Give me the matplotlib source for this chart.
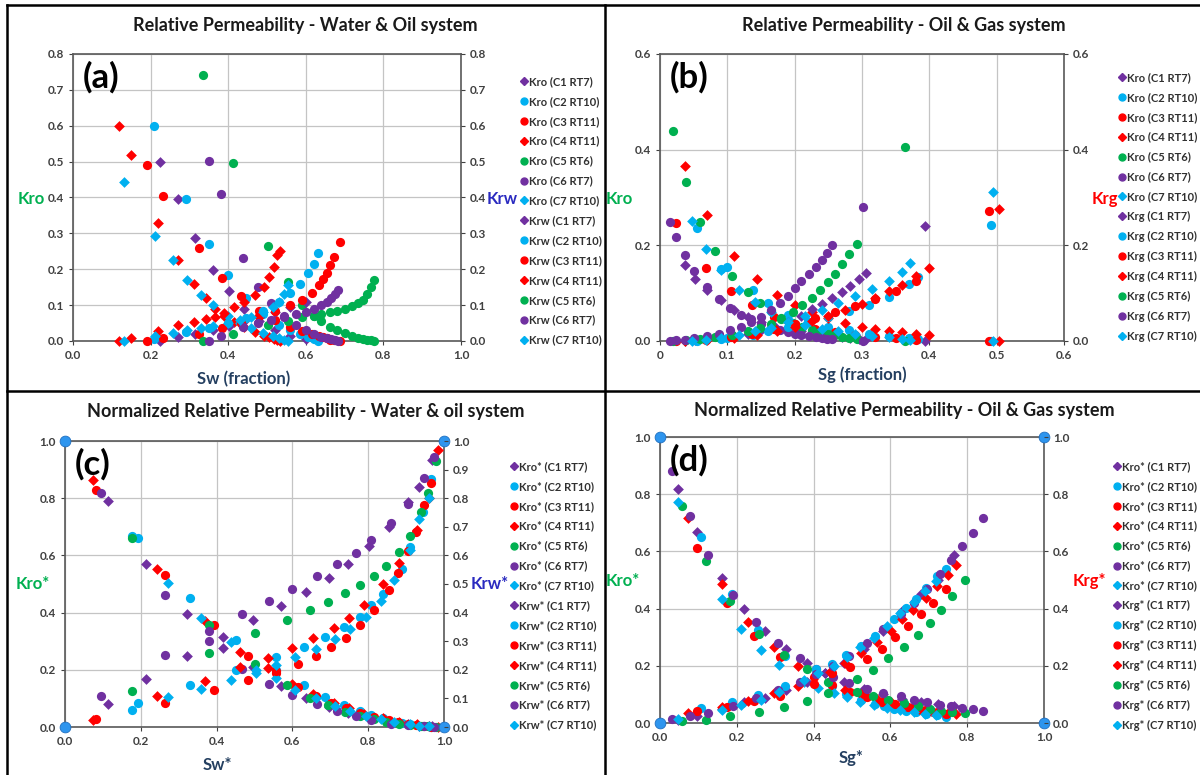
import numpy as np
import matplotlib
matplotlib.use("Agg")
import matplotlib.pyplot as plt
from matplotlib.lines import Line2D

plt.rcParams['font.family'] = ['Lato', 'DejaVu Sans']

cores = ["C1 RT7", "C2 RT10", "C3 RT11", "C4 RT11", "C5 RT6", "C6 RT7", "C7 RT10"]

# (a) water / oil  - Sw, Kro, Krw per core
sw_a = [
    [0.223, 0.27, 0.315, 0.361, 0.401, 0.44, 0.48, 0.52, 0.56, 0.60],
    [0.208, 0.29, 0.35, 0.40, 0.445, 0.49, 0.53, 0.56, 0.585, 0.605, 0.62, 0.632],
    [0.19, 0.232, 0.324, 0.384, 0.434, 0.48, 0.52, 0.56, 0.59, 0.615, 0.635, 0.645, 0.654, 0.663, 0.673, 0.688],
    [0.119, 0.149, 0.218, 0.27, 0.312, 0.342, 0.366, 0.39, 0.414, 0.44, 0.47, 0.492, 0.505, 0.517, 0.527, 0.533],
    [0.335, 0.413, 0.502, 0.554, 0.59, 0.62, 0.64, 0.663, 0.68, 0.70, 0.72, 0.735, 0.748, 0.758, 0.768, 0.777],
    [0.35, 0.381, 0.439, 0.478, 0.51, 0.545, 0.575, 0.60, 0.62, 0.64, 0.655, 0.665, 0.675, 0.683],
    [0.131, 0.212, 0.257, 0.294, 0.329, 0.361, 0.40, 0.43, 0.46, 0.49, 0.515, 0.53, 0.545, 0.555],
]
kro_a = [
    [0.50, 0.395, 0.286, 0.199, 0.139, 0.09, 0.055, 0.03, 0.015, 0.005],
    [0.60, 0.395, 0.27, 0.185, 0.12, 0.075, 0.045, 0.03, 0.02, 0.01, 0.005, 0.0],
    [0.49, 0.405, 0.26, 0.176, 0.125, 0.085, 0.058, 0.038, 0.027, 0.019, 0.013, 0.01, 0.007, 0.004, 0.002, 0.0],
    [0.60, 0.518, 0.33, 0.225, 0.158, 0.121, 0.09, 0.07, 0.052, 0.038, 0.025, 0.015, 0.01, 0.006, 0.003, 0.0],
    [0.742, 0.496, 0.264, 0.165, 0.1, 0.07, 0.056, 0.04, 0.03, 0.021, 0.014, 0.009, 0.006, 0.004, 0.002, 0.0],
    [0.501, 0.411, 0.232, 0.151, 0.105, 0.07, 0.045, 0.03, 0.02, 0.012, 0.008, 0.005, 0.002, 0.0],
    [0.444, 0.294, 0.225, 0.171, 0.129, 0.1, 0.07, 0.05, 0.035, 0.022, 0.013, 0.008, 0.004, 0.0],
]
krw_a = [
    [0.0, 0.01, 0.02, 0.03, 0.042, 0.055, 0.068, 0.082, 0.095, 0.11],
    [0.005, 0.025, 0.035, 0.05, 0.065, 0.085, 0.11, 0.135, 0.16, 0.19, 0.215, 0.245],
    [0.0, 0.007, 0.02, 0.035, 0.05, 0.07, 0.085, 0.1, 0.115, 0.135, 0.155, 0.174, 0.19, 0.213, 0.235, 0.275],
    [0.0, 0.007, 0.027, 0.044, 0.053, 0.06, 0.068, 0.078, 0.095, 0.11, 0.128, 0.15, 0.178, 0.205, 0.24, 0.252],
    [0.0, 0.02, 0.044, 0.056, 0.066, 0.071, 0.076, 0.08, 0.085, 0.09, 0.097, 0.105, 0.115, 0.13, 0.15, 0.171],
    [0.0, 0.015, 0.04, 0.05, 0.058, 0.066, 0.075, 0.082, 0.09, 0.1, 0.11, 0.12, 0.13, 0.141],
    [0.0, 0.015, 0.022, 0.03, 0.037, 0.042, 0.05, 0.058, 0.068, 0.08, 0.095, 0.11, 0.13, 0.155],
]

# (b) oil / gas - Sg, Kro, Krg per core
sg_b = [
    [0.037, 0.052, 0.07, 0.09, 0.11, 0.13, 0.15, 0.17, 0.19, 0.21, 0.225, 0.24, 0.255, 0.27, 0.282, 0.295, 0.306, 0.394],
    [0.055, 0.09, 0.1, 0.138, 0.16, 0.19, 0.22, 0.25, 0.28, 0.31, 0.34, 0.37, 0.383, 0.492],
    [0.024, 0.068, 0.105, 0.137, 0.17, 0.2, 0.23, 0.26, 0.29, 0.32, 0.35, 0.38, 0.489],
    [0.037, 0.07, 0.11, 0.144, 0.174, 0.2, 0.225, 0.25, 0.275, 0.3, 0.32, 0.34, 0.36, 0.38, 0.4, 0.503],
    [0.019, 0.039, 0.06, 0.081, 0.107, 0.13, 0.149, 0.165, 0.18, 0.198, 0.211, 0.225, 0.237, 0.25, 0.26, 0.271, 0.281, 0.293, 0.364],
    [0.015, 0.024, 0.037, 0.051, 0.07, 0.087, 0.104, 0.12, 0.135, 0.15, 0.165, 0.178, 0.19, 0.2, 0.21, 0.222, 0.232, 0.24, 0.248, 0.256, 0.301],
    [0.047, 0.068, 0.09, 0.118, 0.141, 0.165, 0.19, 0.215, 0.24, 0.265, 0.29, 0.315, 0.34, 0.36, 0.372, 0.494],
]
kro_b = [
    [0.158, 0.13, 0.106, 0.085, 0.065, 0.05, 0.04, 0.032, 0.025, 0.02, 0.016, 0.013, 0.01, 0.008, 0.006, 0.005, 0.004, 0.0],
    [0.237, 0.15, 0.155, 0.107, 0.08, 0.055, 0.04, 0.03, 0.022, 0.015, 0.01, 0.006, 0.004, 0.0],
    [0.247, 0.152, 0.105, 0.075, 0.05, 0.035, 0.025, 0.018, 0.013, 0.009, 0.006, 0.003, 0.0],
    [0.366, 0.263, 0.178, 0.13, 0.096, 0.075, 0.06, 0.048, 0.038, 0.03, 0.025, 0.021, 0.018, 0.015, 0.012, 0.0],
    [0.439, 0.333, 0.248, 0.188, 0.135, 0.102, 0.08, 0.062, 0.048, 0.037, 0.03, 0.024, 0.019, 0.015, 0.012, 0.009, 0.006, 0.004, 0.0],
    [0.248, 0.218, 0.179, 0.147, 0.112, 0.087, 0.07, 0.055, 0.045, 0.035, 0.028, 0.022, 0.018, 0.015, 0.012, 0.01, 0.008, 0.006, 0.005, 0.004, 0.0],
    [0.251, 0.193, 0.149, 0.106, 0.082, 0.06, 0.045, 0.034, 0.026, 0.02, 0.015, 0.011, 0.008, 0.005, 0.003, 0.0],
]
krg_b = [
    [0.0, 0.002, 0.004, 0.007, 0.01, 0.015, 0.022, 0.03, 0.04, 0.052, 0.066, 0.078, 0.09, 0.102, 0.115, 0.13, 0.142, 0.24],
    [0.0, 0.004, 0.006, 0.012, 0.02, 0.03, 0.04, 0.05, 0.063, 0.076, 0.092, 0.12, 0.133, 0.242],
    [0.0, 0.003, 0.008, 0.015, 0.025, 0.036, 0.048, 0.06, 0.073, 0.088, 0.104, 0.125, 0.272],
    [0.0, 0.002, 0.006, 0.012, 0.02, 0.03, 0.042, 0.052, 0.065, 0.078, 0.09, 0.104, 0.118, 0.135, 0.153, 0.276],
    [0.0, 0.002, 0.004, 0.008, 0.013, 0.02, 0.028, 0.036, 0.047, 0.061, 0.076, 0.09, 0.107, 0.124, 0.141, 0.16, 0.181, 0.202, 0.406],
    [0.0, 0.002, 0.003, 0.006, 0.01, 0.015, 0.022, 0.03, 0.04, 0.05, 0.065, 0.08, 0.095, 0.11, 0.125, 0.14, 0.155, 0.17, 0.185, 0.2, 0.28],
    [0.0, 0.003, 0.006, 0.012, 0.02, 0.028, 0.04, 0.052, 0.065, 0.08, 0.094, 0.108, 0.125, 0.145, 0.164, 0.311],
]

# (c) normalized water / oil
swn_c = [
    [0.113, 0.213, 0.323, 0.418, 0.497, 0.571, 0.636, 0.697, 0.747, 0.803, 0.856, 0.906, 0.934, 0.968],
    [0.177, 0.192, 0.331, 0.452, 0.556, 0.631, 0.687, 0.735, 0.778, 0.808, 0.838, 0.889, 0.909, 0.944, 0.965],
    [0.083, 0.265, 0.392, 0.483, 0.556, 0.614, 0.662, 0.702, 0.742, 0.778, 0.816, 0.854, 0.879, 0.904, 0.927, 0.947, 0.965],
    [0.073, 0.242, 0.369, 0.463, 0.535, 0.6, 0.655, 0.71, 0.75, 0.79, 0.84, 0.88, 0.93, 0.96, 0.985],
    [0.177, 0.379, 0.5, 0.586, 0.646, 0.694, 0.74, 0.778, 0.816, 0.846, 0.882, 0.911, 0.939, 0.958, 0.978],
    [0.096, 0.265, 0.381, 0.467, 0.538, 0.599, 0.665, 0.717, 0.768, 0.808, 0.859, 0.904, 0.947, 0.973],
    [0.273, 0.359, 0.437, 0.503, 0.558, 0.606, 0.662, 0.712, 0.753, 0.795, 0.833, 0.869, 0.91, 0.934, 0.96],
]
kron_c = [
    [0.79, 0.57, 0.396, 0.315, 0.21, 0.142, 0.1, 0.07, 0.05, 0.033, 0.02, 0.01, 0.005, 0.002],
    [0.668, 0.661, 0.451, 0.305, 0.2, 0.146, 0.105, 0.078, 0.055, 0.042, 0.03, 0.015, 0.01, 0.004, 0.001],
    [0.828, 0.533, 0.358, 0.25, 0.19, 0.14, 0.11, 0.085, 0.065, 0.05, 0.035, 0.025, 0.018, 0.012, 0.007, 0.004, 0.001],
    [0.862, 0.552, 0.369, 0.263, 0.207, 0.15, 0.115, 0.085, 0.065, 0.045, 0.03, 0.018, 0.01, 0.004, 0.0],
    [0.66, 0.355, 0.22, 0.146, 0.103, 0.076, 0.052, 0.038, 0.027, 0.018, 0.012, 0.007, 0.004, 0.002, 0.0],
    [0.818, 0.463, 0.30, 0.203, 0.152, 0.113, 0.082, 0.056, 0.037, 0.023, 0.012, 0.006, 0.002, 0.0],
    [0.503, 0.382, 0.297, 0.2, 0.172, 0.13, 0.1, 0.075, 0.055, 0.04, 0.028, 0.018, 0.01, 0.005, 0.002],
]
krwn_c = [
    [0.082, 0.169, 0.25, 0.276, 0.373, 0.423, 0.472, 0.522, 0.571, 0.633, 0.699, 0.786, 0.84, 0.935],
    [0.061, 0.084, 0.146, 0.2, 0.245, 0.28, 0.315, 0.35, 0.385, 0.425, 0.466, 0.554, 0.629, 0.751, 0.868],
    [0.029, 0.084, 0.128, 0.163, 0.195, 0.221, 0.248, 0.28, 0.312, 0.358, 0.408, 0.478, 0.538, 0.614, 0.682, 0.777, 0.853],
    [0.026, 0.107, 0.161, 0.21, 0.24, 0.275, 0.31, 0.345, 0.38, 0.425, 0.5, 0.575, 0.69, 0.8, 0.97],
    [0.125, 0.26, 0.329, 0.375, 0.409, 0.437, 0.469, 0.495, 0.529, 0.563, 0.612, 0.668, 0.752, 0.818, 0.929],
    [0.107, 0.253, 0.336, 0.396, 0.44, 0.481, 0.527, 0.571, 0.61, 0.655, 0.714, 0.781, 0.871, 0.944],
    [0.105, 0.134, 0.163, 0.19, 0.216, 0.245, 0.274, 0.309, 0.343, 0.385, 0.44, 0.513, 0.62, 0.728, 0.8],
]

# (d) normalized oil / gas
sgn_d = [
    [0.048, 0.096, 0.161, 0.219, 0.274, 0.329, 0.382, 0.43, 0.48, 0.53, 0.58, 0.63, 0.68, 0.725, 0.766],
    [0.106, 0.187, 0.255, 0.325, 0.405, 0.449, 0.485, 0.524, 0.559, 0.583, 0.609, 0.641, 0.666, 0.694, 0.721, 0.746],
    [0.096, 0.174, 0.245, 0.312, 0.4, 0.447, 0.494, 0.539, 0.578, 0.611, 0.646, 0.679, 0.711, 0.744],
    [0.073, 0.161, 0.23, 0.297, 0.359, 0.442, 0.482, 0.524, 0.564, 0.601, 0.631, 0.659, 0.693, 0.721, 0.749, 0.771],
    [0.056, 0.12, 0.182, 0.257, 0.322, 0.382, 0.437, 0.514, 0.554, 0.594, 0.636, 0.671, 0.704, 0.731, 0.761, 0.794],
    [0.03, 0.078, 0.126, 0.189, 0.249, 0.308, 0.365, 0.407, 0.45, 0.492, 0.538, 0.581, 0.628, 0.661, 0.696, 0.729, 0.759, 0.786, 0.814, 0.84],
    [0.048, 0.161, 0.21, 0.262, 0.309, 0.375, 0.412, 0.452, 0.487, 0.521, 0.556, 0.591, 0.626, 0.661, 0.689, 0.719],
]
kron_d = [
    [0.818, 0.667, 0.507, 0.4, 0.32, 0.26, 0.21, 0.175, 0.145, 0.12, 0.1, 0.085, 0.075, 0.065, 0.058],
    [0.649, 0.45, 0.324, 0.235, 0.17, 0.13, 0.1, 0.08, 0.065, 0.058, 0.05, 0.043, 0.037, 0.032, 0.027, 0.022],
    [0.612, 0.42, 0.303, 0.23, 0.16, 0.134, 0.11, 0.092, 0.075, 0.065, 0.055, 0.045, 0.038, 0.03],
    [0.717, 0.486, 0.352, 0.265, 0.198, 0.14, 0.115, 0.1, 0.085, 0.072, 0.062, 0.055, 0.048, 0.04, 0.035, 0.03],
    [0.76, 0.565, 0.428, 0.311, 0.237, 0.189, 0.145, 0.108, 0.096, 0.079, 0.07, 0.058, 0.05, 0.043, 0.04, 0.035],
    [0.881, 0.723, 0.589, 0.449, 0.353, 0.28, 0.227, 0.19, 0.16, 0.14, 0.12, 0.105, 0.093, 0.082, 0.072, 0.064, 0.058, 0.052, 0.049, 0.043],
    [0.772, 0.434, 0.33, 0.256, 0.203, 0.143, 0.122, 0.105, 0.09, 0.073, 0.062, 0.052, 0.045, 0.038, 0.033, 0.029],
]
krgn_d = [
    [0.012, 0.026, 0.049, 0.073, 0.087, 0.117, 0.142, 0.175, 0.21, 0.26, 0.32, 0.39, 0.45, 0.5, 0.589],
    [0.052, 0.073, 0.099, 0.13, 0.189, 0.206, 0.237, 0.268, 0.303, 0.329, 0.364, 0.402, 0.435, 0.472, 0.513, 0.54],
    [0.041, 0.056, 0.076, 0.093, 0.135, 0.175, 0.195, 0.225, 0.26, 0.3, 0.34, 0.38, 0.42, 0.47],
    [0.035, 0.055, 0.076, 0.105, 0.13, 0.177, 0.21, 0.245, 0.283, 0.32, 0.364, 0.396, 0.437, 0.478, 0.519, 0.554],
    [0.008, 0.012, 0.023, 0.037, 0.056, 0.078, 0.105, 0.154, 0.186, 0.227, 0.266, 0.307, 0.35, 0.396, 0.443, 0.501],
    [0.014, 0.023, 0.035, 0.058, 0.087, 0.117, 0.142, 0.17, 0.2, 0.235, 0.28, 0.33, 0.38, 0.42, 0.47, 0.52, 0.571, 0.618, 0.664, 0.717],
    [0.015, 0.044, 0.064, 0.082, 0.107, 0.149, 0.175, 0.2, 0.23, 0.266, 0.297, 0.34, 0.385, 0.422, 0.46, 0.498],
]

# end-point anchors of the normalized plots
anchor_x = [0, 0, 1, 1]
anchor_y = [0, 1, 0, 1]

colors = ["#7030A0", "#00B0F0", "#FF0000", "#FF0000", "#00B050", "#7030A0", "#00B0F0"]
markers = ["D", "o", "o", "D", "o", "o", "D"]
sizes = {"o": 44, "D": 30}

GREEN = "#00B050"
BLUE_LBL = "#2A2AC0"
RED_LBL = "#FF0000"
NAVY = "#243F60"
TICK = "#404040"

fig = plt.figure(figsize=(12, 7.75), dpi=100)


def px(x, y):
    return x / 1200, 1 - y / 775


def rect(l, t, r, b):
    return [l / 1200, 1 - b / 775, (r - l) / 1200, (b - t) / 775]


def panel(box, sx, k1, k2, xlim, ylim, xt, yt, yt_r, xlabels, lab1, lab2, lab2_col,
          title, title_xy, tag, lab1_xy, lab2_xy, xlab, xlab_xy, leg_xy, anchors=False):
    ax = fig.add_axes(box)
    ax.set_xlim(xlim)
    ax.set_ylim(ylim)
    ax.set_xticks(xt)
    ax.set_xticklabels(xlabels)
    ax.set_yticks(yt)
    ax.set_yticklabels(["%.1f" % v for v in yt])
    ax.grid(True, color="#C4C4C4", lw=0.9)
    ax.set_axisbelow(True)
    for s in ax.spines.values():
        s.set_color("#595959")
        s.set_linewidth(1.2)
    ax.tick_params(colors=TICK, labelsize=8.5, length=3, width=0.8)
    for t in ax.get_xticklabels() + ax.get_yticklabels():
        t.set_fontweight("bold")

    handles = []
    for i in range(7):
        ax.scatter(sx[i], k1[i], s=sizes[markers[i]], marker=markers[i], color=colors[i],
                   linewidths=0, clip_on=False, zorder=3)
        handles.append(Line2D([], [], ls="", marker=markers[i], color=colors[i],
                              markersize=5 if markers[i] == "o" else 4,
                              label="%s (%s)" % (lab1, cores[i])))
    for i in range(7):
        ax.scatter(sx[i], k2[i], s=sizes[markers[i]], marker=markers[i], color=colors[i],
                   linewidths=0, clip_on=False, zorder=3)
        handles.append(Line2D([], [], ls="", marker=markers[i], color=colors[i],
                              markersize=5 if markers[i] == "o" else 4,
                              label="%s (%s)" % (lab2, cores[i])))
    if anchors:
        ax.scatter(anchor_x, anchor_y, s=60, color="#2E95EE", edgecolors="#1F6FC0",
                   linewidths=0.6, clip_on=False, zorder=4)

    axr = ax.twinx()
    axr.set_ylim(ylim)
    axr.set_yticks(yt_r)
    axr.set_yticklabels(["%.1f" % v for v in yt_r])
    axr.tick_params(colors=TICK, labelsize=8.5, length=3, width=0.8)
    for t in axr.get_yticklabels():
        t.set_fontweight("bold")
    for s in axr.spines.values():
        s.set_visible(False)

    fig.text(*px(*title_xy), title, ha="center", va="center", fontsize=13,
             fontweight="bold", color="#1A1A1A")
    ax.text(0.025, 0.92, tag, transform=ax.transAxes, ha="left", va="center",
            fontsize=25, fontweight="bold", color="black")
    fig.text(*px(*lab1_xy), lab1, ha="center", va="center", fontsize=12,
             fontweight="bold", color=GREEN)
    fig.text(*px(*lab2_xy), lab2, ha="center", va="center", fontsize=12,
             fontweight="bold", color=lab2_col)
    fig.text(*px(*xlab_xy), xlab, ha="center", va="center", fontsize=12,
             fontweight="bold", color=NAVY)

    leg = fig.legend(handles=handles, loc="upper left", bbox_to_anchor=px(*leg_xy),
                     frameon=False, fontsize=8, handlelength=0.6, handletextpad=0.12,
                     labelspacing=0.8, borderpad=0, borderaxespad=0)
    for t in leg.get_texts():
        t.set_fontweight("bold")
        t.set_color("#303030")
    return ax


tick10 = [round(0.1 * i, 1) for i in range(11)]
tick20 = [round(0.2 * i, 1) for i in range(6)]

panel(rect(73, 54, 461, 341), sw_a, kro_a, krw_a, (0, 1), (0, 0.8),
      tick20, tick10[:9], tick10[:9], ["%.1f" % v for v in tick20],
      "Kro", "Krw", BLUE_LBL, "Relative Permeability - Water & Oil system", (305, 25), "(a)",
      (31, 199), (502, 199), "Sw (fraction)", (244, 379), (521, 76))

xb = [round(0.1 * i, 1) for i in range(7)]
panel(rect(660, 54, 1064, 341), sg_b, kro_b, krg_b, (0, 0.6), (0, 0.6),
      xb, [0, 0.2, 0.4, 0.6], [0, 0.2, 0.4, 0.6], ["0"] + ["%.1f" % v for v in xb[1:]],
      "Kro", "Krg", RED_LBL, "Relative Permeability - Oil & Gas system", (904, 25), "(b)",
      (619, 199), (1105, 199), "Sg (fraction)", (862, 375), (1119, 72))

panel(rect(65, 441, 444, 727), swn_c, kron_c, krwn_c, (0, 1), (0, 1),
      tick20, tick20, tick10, ["%.1f" % v for v in tick20],
      "Kro*", "Krw*", BLUE_LBL, "Normalized Relative Permeability - Water & oil system", (306, 412), "(c)",
      (33, 584), (490, 584), "Sw*", (217, 765), (511, 461), anchors=True)

panel(rect(660, 437, 1044, 723), sgn_d, kron_d, krgn_d, (0, 1), (0, 1),
      tick20, tick20, tick20, ["%.1f" % v for v in tick20],
      "Kro*", "Krg*", RED_LBL, "Normalized Relative Permeability - Oil & Gas system", (904, 411), "(d)",
      (623, 581), (1089, 581), "Sg*", (851, 758), (1114, 461), anchors=True)

# panel frames
for xs, ys in [((7, 1199), (5, 5)), ((7, 7), (5, 775)), ((605, 605), (5, 775)), ((7, 1199), (391, 391))]:
    fig.add_artist(Line2D([x / 1200 for x in xs], [1 - y / 775 for y in ys], color="black", lw=1.8))

fig.savefig("out.png", dpi=100)
